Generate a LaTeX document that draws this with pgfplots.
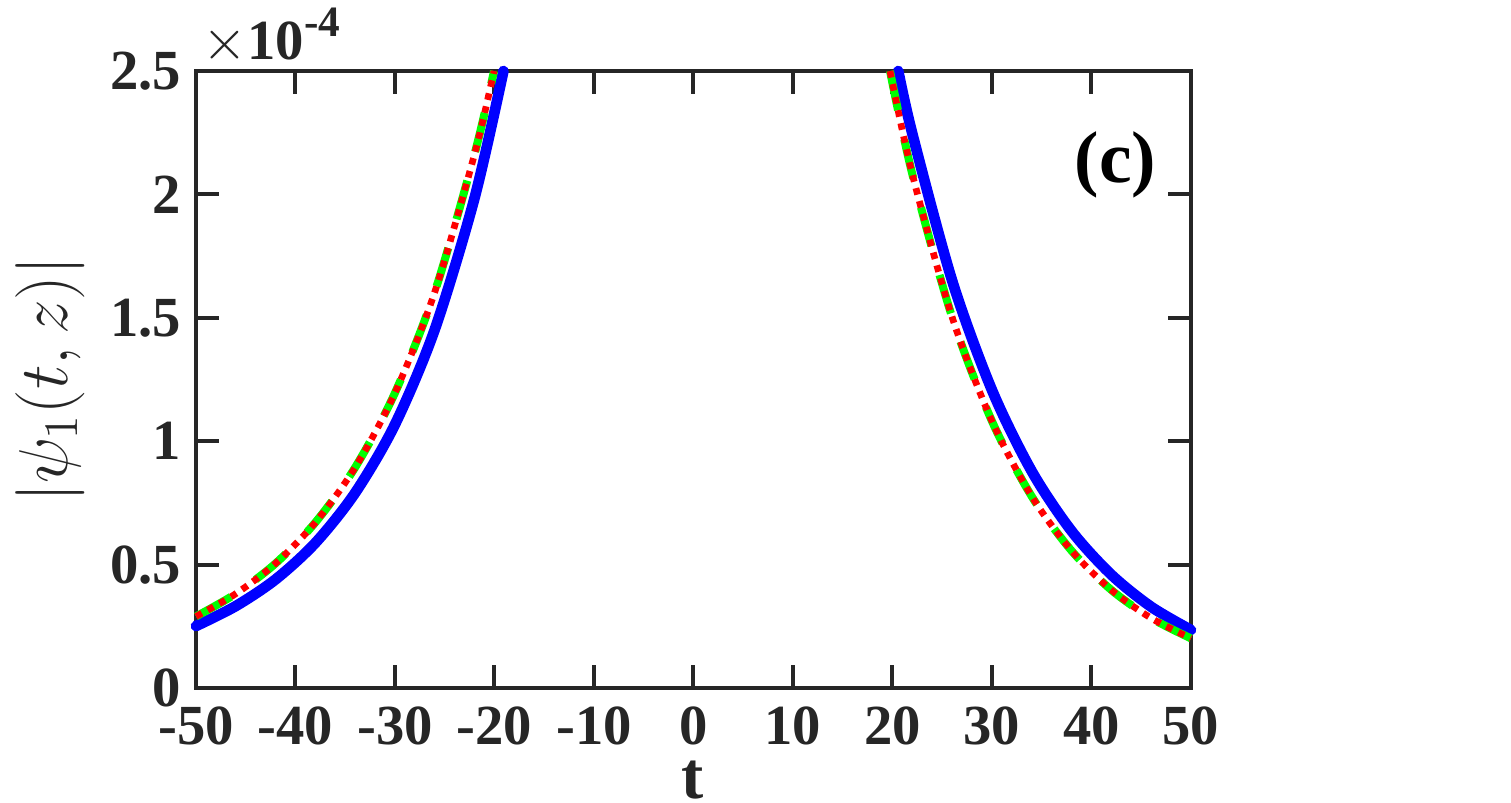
\documentclass[border=0pt]{standalone}
\usepackage{pgfplots}
\pgfplotsset{compat=1.18}
\usepackage{fontspec}
\setmainfont{Liberation Serif}
\definecolor{axgray}{RGB}{38,38,38}
\begin{document}
\begin{tikzpicture}
\useasboundingbox (-58.8pt,-34.5pt) rectangle (394.5pt,206.4pt);
\begin{axis}[
  at={(0,0)}, anchor=south west,
  scale only axis,
  width=298.5pt, height=185.1pt,
  xmin=-50, xmax=50, ymin=0, ymax=2.5,
  clip=false,
  axis line style={axgray, line width=1.2pt},
  tick style={axgray, line width=1.2pt},
  major tick length=7pt,
  tick align=inside,
  xtick={-50,-40,-30,-20,-10,0,10,20,30,40,50},
  xticklabels={-50,-40,-30,-20,-10,0,10,20,30,40,50},
  ytick={0,0.5,1,1.5,2,2.5},
  yticklabels={0,0.5,1,1.5,2,2.5},
  ticklabel style={font=\bfseries\fontsize{17}{17}\selectfont, text=axgray},
  xticklabel style={yshift=-2pt},
  yticklabel style={xshift=-1pt},
  xlabel={\textbf{t}},
  xlabel style={font=\fontsize{20}{20}\selectfont, text=axgray, at={(axis description cs:0.4995,-0.149)}, anchor=center},
  ylabel={$|\psi_1(t,z)|$},
  ylabel style={font=\fontsize{20}{20}\selectfont, text=axgray, at={(axis description cs:-0.147,0.5)}, anchor=center},
]
% blue solid
\addplot[blue, line width=3.2pt, line cap=round, line join=round, smooth] coordinates {
(-50,0.251) (-46,0.332) (-42,0.440) (-38,0.588) (-34,0.791) (-30,1.068) (-26,1.453) (-22,1.986) (-19.1,2.5)
};
\addplot[blue, line width=3.2pt, line cap=round, line join=round, smooth] coordinates {
(20.58,2.5) (22,2.245) (26,1.650) (30,1.207) (34,0.878) (38,0.636) (42,0.459) (46,0.329) (50,0.235)
};
% green dashed
\addplot[green, line width=2.4pt, dash pattern=on 12pt off 9pt, smooth] coordinates {
(-50,0.29) (-46,0.382) (-42,0.505) (-38,0.671) (-34,0.894) (-30,1.196) (-26,1.605) (-22,2.164) (-20.05,2.5)
};
\addplot[green, line width=2.4pt, dash pattern=on 12pt off 9pt, smooth] coordinates {
(19.75,2.5) (22,2.081) (26,1.502) (30,1.081) (34,0.776) (38,0.556) (42,0.397) (46,0.283) (50,0.201)
};
% red dotted
\addplot[red, line width=2pt, dash pattern=on 2pt off 2pt, smooth] coordinates {
(-50,0.29) (-46,0.382) (-42,0.505) (-38,0.671) (-34,0.894) (-30,1.196) (-26,1.605) (-22,2.164) (-20.05,2.5)
};
\addplot[red, line width=2pt, dash pattern=on 2pt off 2pt, smooth] coordinates {
(19.75,2.5) (22,2.081) (26,1.502) (30,1.081) (34,0.776) (38,0.556) (42,0.397) (46,0.283) (50,0.201)
};
\node[anchor=center, text=black, font=\bfseries\fontsize{22}{22}\selectfont] at (axis cs:42.4,2.12) {(c)};
\node[anchor=base west, inner sep=0pt, text=axgray, font=\fontsize{17}{17}\selectfont] at (rel axis cs:0.006,1.018) {$\times$\textbf{10}\raisebox{7pt}{\fontsize{13}{13}\selectfont\textbf{-4}}};
\end{axis}
\end{tikzpicture}
\end{document}
